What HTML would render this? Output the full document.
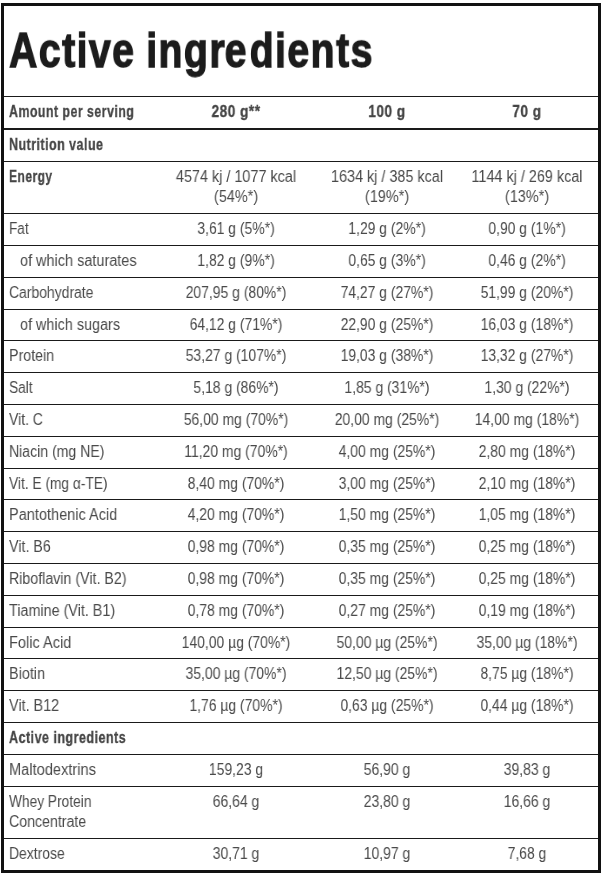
<!DOCTYPE html>
<html><head><meta charset="utf-8"><style>
html,body{margin:0;padding:0;background:#fff;}
body{width:603px;height:873px;position:relative;overflow:hidden;font-family:"Liberation Sans",sans-serif;}
.box{position:absolute;left:1px;top:3px;width:600px;height:870px;border:3px solid #111;box-sizing:border-box;}
.hl{position:absolute;left:4px;width:594px;background:#1a1a1a;}
.title{position:absolute;left:8.5px;top:0;font-weight:bold;font-size:49.5px;line-height:60px;color:#1c1c1c;-webkit-text-stroke:1.3px #1c1c1c;white-space:nowrap;transform-origin:0 47.6px;letter-spacing:1.8px;word-spacing:-1.9px;transform:scale(0.793,0.97);}
.L,.C{position:absolute;font-size:16px;line-height:20.8px;height:20.8px;white-space:nowrap;color:#4a4a4a;}
.L{transform-origin:0 0;}
.C{width:200px;text-align:center;transform-origin:50% 0;}
.r{transform:scaleX(0.9);}
.b{font-weight:bold;color:#454545;-webkit-text-stroke:0.3px #454545;letter-spacing:0.6px;transform:scaleX(0.78);}
.bh{font-weight:bold;color:#454545;-webkit-text-stroke:0.3px #454545;letter-spacing:0.6px;transform:scaleX(0.85);}
.v{transform:scaleX(0.87);}
.e{transform:scaleX(0.90);}
.L,.C,.title{will-change:transform;}
</style></head><body>
<div class="box"></div>
<div class="title" style="top:19.5px">Active ing<span style="letter-spacing:0">r</span><span style="letter-spacing:4px">e</span>dients</div>
<div class="hl" style="top:96px;height:1px"></div>
<div class="hl" style="top:128px;height:2px"></div>
<div class="hl" style="top:161px;height:1px"></div>
<div class="hl" style="top:213px;height:1px"></div>
<div class="hl" style="top:245px;height:1px"></div>
<div class="hl" style="top:277px;height:1px"></div>
<div class="hl" style="top:309px;height:1px"></div>
<div class="hl" style="top:340px;height:1px"></div>
<div class="hl" style="top:372px;height:1px"></div>
<div class="hl" style="top:404px;height:1px"></div>
<div class="hl" style="top:436px;height:1px"></div>
<div class="hl" style="top:468px;height:1px"></div>
<div class="hl" style="top:499px;height:1px"></div>
<div class="hl" style="top:531px;height:1px"></div>
<div class="hl" style="top:563px;height:1px"></div>
<div class="hl" style="top:595px;height:1px"></div>
<div class="hl" style="top:627px;height:1px"></div>
<div class="hl" style="top:658px;height:1px"></div>
<div class="hl" style="top:690px;height:1px"></div>
<div class="hl" style="top:722px;height:1px"></div>
<div class="hl" style="top:754px;height:1px"></div>
<div class="hl" style="top:786px;height:1px"></div>
<div class="hl" style="top:838px;height:1px"></div>
<div class="L b" style="left:8.7px;top:102.06px;transform:scaleX(0.7738)">Amount per serving</div>
<div class="C bh" style="left:136.30px;top:102.06px">280 g**</div>
<div class="C bh" style="left:286.60px;top:102.06px">100 g</div>
<div class="C bh" style="left:426.80px;top:102.06px">70 g</div>
<div class="L b" style="left:8.7px;top:134.86px;transform:scaleX(0.7800)">Nutrition value</div>
<div class="L b" style="left:8.7px;top:166.66px;transform:scaleX(0.7530)">Energy</div>
<div class="C e" style="left:136.30px;top:166.66px">4574 kj / 1077 kcal</div>
<div class="C e" style="left:136.30px;top:187.46px">(54%*)</div>
<div class="C e" style="left:286.60px;top:166.66px">1634 kj / 385 kcal</div>
<div class="C e" style="left:286.60px;top:187.46px">(19%*)</div>
<div class="C e" style="left:426.80px;top:166.66px">1144 kj / 269 kcal</div>
<div class="C e" style="left:426.80px;top:187.46px">(13%*)</div>
<div class="L r" style="left:8.7px;top:219.26px;transform:scaleX(0.8459)">Fat</div>
<div class="C v" style="left:136.30px;top:219.26px">3,61 g (5%*)</div>
<div class="C v" style="left:286.60px;top:219.26px">1,29 g (2%*)</div>
<div class="C v" style="left:426.80px;top:219.26px">0,90 g (1%*)</div>
<div class="L r" style="left:19.6px;top:251.06px;transform:scaleX(0.9040)">of which saturates</div>
<div class="C v" style="left:136.30px;top:251.06px">1,82 g (9%*)</div>
<div class="C v" style="left:286.60px;top:251.06px">0,65 g (3%*)</div>
<div class="C v" style="left:426.80px;top:251.06px">0,46 g (2%*)</div>
<div class="L r" style="left:8.7px;top:282.86px;transform:scaleX(0.8709)">Carbohydrate</div>
<div class="C v" style="left:136.30px;top:282.86px">207,95 g (80%*)</div>
<div class="C v" style="left:286.60px;top:282.86px">74,27 g (27%*)</div>
<div class="C v" style="left:426.80px;top:282.86px">51,99 g (20%*)</div>
<div class="L r" style="left:19.6px;top:314.66px;transform:scaleX(0.9000)">of which sugars</div>
<div class="C v" style="left:136.30px;top:314.66px">64,12 g (71%*)</div>
<div class="C v" style="left:286.60px;top:314.66px">22,90 g (25%*)</div>
<div class="C v" style="left:426.80px;top:314.66px">16,03 g (18%*)</div>
<div class="L r" style="left:8.7px;top:346.46px;transform:scaleX(0.8899)">Protein</div>
<div class="C v" style="left:136.30px;top:346.46px">53,27 g (107%*)</div>
<div class="C v" style="left:286.60px;top:346.46px">19,03 g (38%*)</div>
<div class="C v" style="left:426.80px;top:346.46px">13,32 g (27%*)</div>
<div class="L r" style="left:8.7px;top:378.26px;transform:scaleX(0.8532)">Salt</div>
<div class="C v" style="left:136.30px;top:378.26px">5,18 g (86%*)</div>
<div class="C v" style="left:286.60px;top:378.26px">1,85 g (31%*)</div>
<div class="C v" style="left:426.80px;top:378.26px">1,30 g (22%*)</div>
<div class="L r" style="left:8.7px;top:410.06px;transform:scaleX(0.8738)">Vit. C</div>
<div class="C v" style="left:136.30px;top:410.06px">56,00 mg (70%*)</div>
<div class="C v" style="left:286.60px;top:410.06px">20,00 mg (25%*)</div>
<div class="C v" style="left:426.80px;top:410.06px">14,00 mg (18%*)</div>
<div class="L r" style="left:8.7px;top:441.86px;transform:scaleX(0.8790)">Niacin (mg NE)</div>
<div class="C v" style="left:136.30px;top:441.86px">11,20 mg (70%*)</div>
<div class="C v" style="left:286.60px;top:441.86px">4,00 mg (25%*)</div>
<div class="C v" style="left:426.80px;top:441.86px">2,80 mg (18%*)</div>
<div class="L r" style="left:8.7px;top:473.66px;transform:scaleX(0.8582)">Vit. E (mg α-TE)</div>
<div class="C v" style="left:136.30px;top:473.66px">8,40 mg (70%*)</div>
<div class="C v" style="left:286.60px;top:473.66px">3,00 mg (25%*)</div>
<div class="C v" style="left:426.80px;top:473.66px">2,10 mg (18%*)</div>
<div class="L r" style="left:8.7px;top:505.46px;transform:scaleX(0.9086)">Pantothenic Acid</div>
<div class="C v" style="left:136.30px;top:505.46px">4,20 mg (70%*)</div>
<div class="C v" style="left:286.60px;top:505.46px">1,50 mg (25%*)</div>
<div class="C v" style="left:426.80px;top:505.46px">1,05 mg (18%*)</div>
<div class="L r" style="left:8.7px;top:537.26px;transform:scaleX(0.8890)">Vit. B6</div>
<div class="C v" style="left:136.30px;top:537.26px">0,98 mg (70%*)</div>
<div class="C v" style="left:286.60px;top:537.26px">0,35 mg (25%*)</div>
<div class="C v" style="left:426.80px;top:537.26px">0,25 mg (18%*)</div>
<div class="L r" style="left:8.7px;top:569.06px;transform:scaleX(0.8884)">Riboflavin (Vit. B2)</div>
<div class="C v" style="left:136.30px;top:569.06px">0,98 mg (70%*)</div>
<div class="C v" style="left:286.60px;top:569.06px">0,35 mg (25%*)</div>
<div class="C v" style="left:426.80px;top:569.06px">0,25 mg (18%*)</div>
<div class="L r" style="left:8.7px;top:600.86px;transform:scaleX(0.8979)">Tiamine (Vit. B1)</div>
<div class="C v" style="left:136.30px;top:600.86px">0,78 mg (70%*)</div>
<div class="C v" style="left:286.60px;top:600.86px">0,27 mg (25%*)</div>
<div class="C v" style="left:426.80px;top:600.86px">0,19 mg (18%*)</div>
<div class="L r" style="left:8.7px;top:632.66px;transform:scaleX(0.9112)">Folic Acid</div>
<div class="C v" style="left:136.30px;top:632.66px">140,00 µg (70%*)</div>
<div class="C v" style="left:286.60px;top:632.66px">50,00 µg (25%*)</div>
<div class="C v" style="left:426.80px;top:632.66px">35,00 µg (18%*)</div>
<div class="L r" style="left:8.7px;top:664.46px;transform:scaleX(0.9003)">Biotin</div>
<div class="C v" style="left:136.30px;top:664.46px">35,00 µg (70%*)</div>
<div class="C v" style="left:286.60px;top:664.46px">12,50 µg (25%*)</div>
<div class="C v" style="left:426.80px;top:664.46px">8,75 µg (18%*)</div>
<div class="L r" style="left:8.7px;top:696.26px;transform:scaleX(0.9000)">Vit. B12</div>
<div class="C v" style="left:136.30px;top:696.26px">1,76 µg (70%*)</div>
<div class="C v" style="left:286.60px;top:696.26px">0,63 µg (25%*)</div>
<div class="C v" style="left:426.80px;top:696.26px">0,44 µg (18%*)</div>
<div class="L b" style="left:8.7px;top:728.06px;transform:scaleX(0.7834)">Active ingredients</div>
<div class="L r" style="left:8.7px;top:759.86px;transform:scaleX(0.9134)">Maltodextrins</div>
<div class="C v" style="left:136.30px;top:759.86px">159,23 g</div>
<div class="C v" style="left:286.60px;top:759.86px">56,90 g</div>
<div class="C v" style="left:426.80px;top:759.86px">39,83 g</div>
<div class="L r" style="left:8.7px;top:791.66px;transform:scaleX(0.8582)">Whey Protein</div>
<div class="L r" style="left:8.7px;top:812.46px;transform:scaleX(0.8854)">Concentrate</div>
<div class="C v" style="left:136.30px;top:791.66px">66,64 g</div>
<div class="C v" style="left:286.60px;top:791.66px">23,80 g</div>
<div class="C v" style="left:426.80px;top:791.66px">16,66 g</div>
<div class="L r" style="left:8.7px;top:844.26px;transform:scaleX(0.8678)">Dextrose</div>
<div class="C v" style="left:136.30px;top:844.26px">30,71 g</div>
<div class="C v" style="left:286.60px;top:844.26px">10,97 g</div>
<div class="C v" style="left:426.80px;top:844.26px">7,68 g</div>
</body></html>
